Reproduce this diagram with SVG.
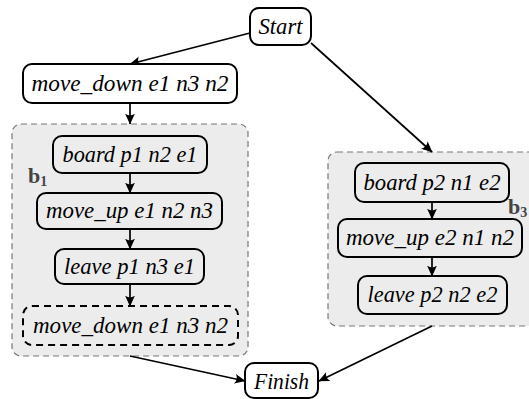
<svg xmlns="http://www.w3.org/2000/svg" width="529" height="399" viewBox="0 0 529 399">
<defs>
<style>
.cl{fill:#ececec;stroke:#777;stroke-width:1.2;stroke-dasharray:6 4}
.nd{fill:none;stroke:#000;stroke-width:2}
.ndw{fill:#fff;stroke:#000;stroke-width:2}
.dsh{fill:none;stroke:#000;stroke-width:2;stroke-dasharray:7 5}
.t{font-family:"Liberation Serif","Times New Roman",serif;font-style:italic;font-size:23px;fill:#000;text-anchor:middle}
.lb{font-family:"Liberation Serif","Times New Roman",serif;font-weight:bold;font-size:22px;fill:#444}
.lbs{font-family:"Liberation Serif","Times New Roman",serif;font-weight:bold;font-size:14px;fill:#444}
.e{fill:none;stroke:#000;stroke-width:1.7}
</style>
<marker id="ah" viewBox="0 0 10 10" refX="9.5" refY="5" markerWidth="11" markerHeight="11" markerUnits="userSpaceOnUse" orient="auto">
<path d="M10,5 L0,0.5 Q3.5,5 0,9.5 Z" fill="#000"/>
</marker>
</defs>
<g id="cluster-b1">
<rect class="cl" x="12" y="124" width="236" height="232" rx="9"/>
<text x="28" y="183"><tspan class="lb">b</tspan><tspan class="lbs" dy="3">1</tspan></text>
</g>
<g id="cluster-b3">
<rect class="cl" x="328" y="152" width="220" height="174" rx="9"/>
<text x="508" y="214"><tspan class="lb">b</tspan><tspan class="lbs" dy="3">3</tspan></text>
</g>
<g id="connectors">
<line class="e" x1="250" y1="33" x2="130" y2="64" marker-end="url(#ah)"/>
<line class="e" x1="130" y1="103" x2="130" y2="124" marker-end="url(#ah)"/>
<line class="e" x1="130" y1="173" x2="130" y2="193" marker-end="url(#ah)"/>
<line class="e" x1="130" y1="229" x2="130" y2="249" marker-end="url(#ah)"/>
<line class="e" x1="130" y1="284" x2="130" y2="306" marker-end="url(#ah)"/>
<line class="e" x1="130" y1="356" x2="245" y2="381" marker-end="url(#ah)"/>
<line class="e" x1="311" y1="43" x2="432" y2="152" marker-end="url(#ah)"/>
<line class="e" x1="432" y1="202" x2="432" y2="219" marker-end="url(#ah)"/>
<line class="e" x1="432" y1="257" x2="432" y2="276" marker-end="url(#ah)"/>
<line class="e" x1="432" y1="326" x2="319" y2="381" marker-end="url(#ah)"/>
</g>
<g id="start">
<rect class="ndw" x="250" y="8" width="61" height="37" rx="9"/>
<text class="t" x="280.5" y="34" textLength="44" lengthAdjust="spacingAndGlyphs">Start</text>
</g>
<g id="move_down_top">
<rect class="ndw" x="23" y="64" width="214" height="39" rx="9"/>
<text class="t" x="130" y="90.5" textLength="197" lengthAdjust="spacingAndGlyphs">move_down e1 n3 n2</text>
</g>
<g id="board_p1">
<rect class="nd" x="53" y="136" width="154" height="37" rx="9"/>
<text class="t" x="130" y="161.5" textLength="135" lengthAdjust="spacingAndGlyphs">board p1 n2 e1</text>
</g>
<g id="move_up_e1">
<rect class="nd" x="37" y="193" width="185" height="36" rx="9"/>
<text class="t" x="129.5" y="218" textLength="167" lengthAdjust="spacingAndGlyphs">move_up e1 n2 n3</text>
</g>
<g id="leave_p1">
<rect class="nd" x="55" y="249" width="149" height="35" rx="9"/>
<text class="t" x="129.5" y="273.5" textLength="131" lengthAdjust="spacingAndGlyphs">leave p1 n3 e1</text>
</g>
<g id="move_down_dashed">
<rect class="dsh" x="23" y="306" width="215" height="39" rx="9"/>
<text class="t" x="130.5" y="332.5" textLength="195" lengthAdjust="spacingAndGlyphs">move_down e1 n3 n2</text>
</g>
<g id="finish">
<rect class="ndw" x="245" y="363" width="73" height="35" rx="9"/>
<text class="t" x="281.5" y="389" textLength="55" lengthAdjust="spacingAndGlyphs">Finish</text>
</g>
<g id="board_p2">
<rect class="nd" x="355" y="163" width="154" height="39" rx="9"/>
<text class="t" x="432" y="189.5" textLength="137" lengthAdjust="spacingAndGlyphs">board p2 n1 e2</text>
</g>
<g id="move_up_e2">
<rect class="nd" x="338" y="219" width="184" height="38" rx="9"/>
<text class="t" x="430" y="245" textLength="168" lengthAdjust="spacingAndGlyphs">move_up e2 n1 n2</text>
</g>
<g id="leave_p2">
<rect class="nd" x="358" y="276" width="149" height="38" rx="9"/>
<text class="t" x="432.5" y="302" textLength="130" lengthAdjust="spacingAndGlyphs">leave p2 n2 e2</text>
</g>
</svg>
